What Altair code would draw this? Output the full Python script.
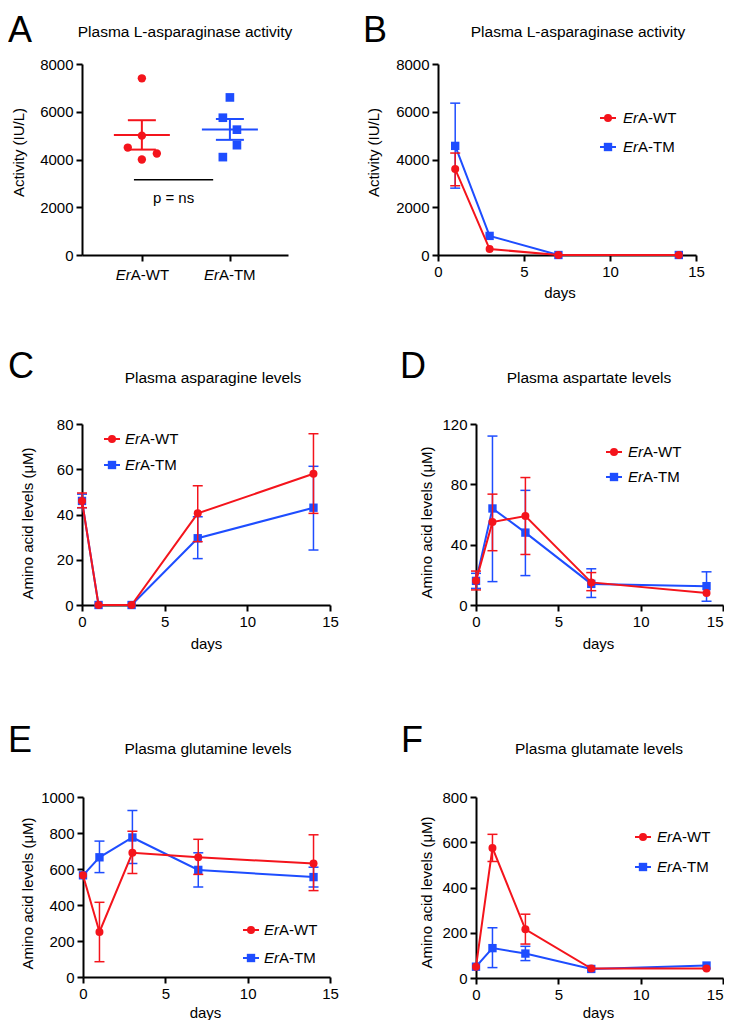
import altair as alt
import pandas as pd

FONT = "Liberation Sans"
RED = "#f4141c"
BLUE = "#1e4dff"
W, H = 716, 1012
LETTER_SIZE = 36

# ---------------- data ----------------
series_er = ["Er", "Er"]
series_rest = ["A-WT", "A-TM"]

# Panel A (individual animals)
a_positions = [1, 2]
a_wt_values = [7400, 5000, 4500, 4250, 4000]
a_wt_x = [1.0, 1.0, 0.84, 1.17, 1.0]
a_tm_values = [6600, 5750, 5250, 4600, 4100]
a_tm_x = [2.0, 1.92, 2.08, 2.08, 1.92]
a_p_line_x = [0.91, 1.81]
a_p_line_y = [3150]
a_p_text = ["p = ns"]
a_p_text_x = [1.36]
a_p_text_y = [2400]

# Panel B
b_days = [1, 3, 7, 14]
b_wt_mean = [3600, 250, 0, 0]
b_wt_lo = [2900, None, None, None]
b_wt_hi = [4270, None, None, None]
b_tm_mean = [4570, 800, 0, 0]
b_tm_lo = [2800, None, None, None]
b_tm_hi = [6360, None, None, None]

days = [0, 1, 3, 7, 14]
# Panel C asparagine
c_wt_mean = [46, 0, 0, 40.5, 58]
c_wt_lo = [43, None, None, 28, 40.5]
c_wt_hi = [49.5, None, None, 52.7, 75.7]
c_tm_mean = [46, 0, 0, 29.5, 43]
c_tm_lo = [43, None, None, 20.5, 24.3]
c_tm_hi = [49, None, None, 39, 61.3]
# Panel D aspartate
d_wt_mean = [16, 55, 59, 15, 8]
d_wt_lo = [10, 36, 33.5, 9.5, None]
d_wt_hi = [22.5, 73.5, 84.5, 21.5, None]
d_tm_mean = [16, 64, 48, 14, 12.5]
d_tm_lo = [11, 15.5, 19.5, 5, 2.5]
d_tm_hi = [21, 112, 76, 24, 22]
# Panel E glutamine
e_wt_mean = [565, 250, 690, 665, 630]
e_wt_lo = [None, 85, 575, 570, 480]
e_wt_hi = [None, 415, 810, 765, 790]
e_tm_mean = [565, 665, 775, 595, 555]
e_tm_lo = [None, 580, 630, 500, 500]
e_tm_hi = [None, 755, 925, 690, 610]
# Panel F glutamate
f_wt_mean = [50, 575, 215, 42, 42]
f_wt_lo = [None, 515, 150, None, None]
f_wt_hi = [None, 635, 282, None, None]
f_tm_mean = [50, 132, 108, 40, 55]
f_tm_lo = [None, 46, 77, None, None]
f_tm_hi = [None, 222, 140, None, None]

titles = {
    "A": "Plasma L-asparaginase activity",
    "B": "Plasma L-asparaginase activity",
    "C": "Plasma asparagine levels",
    "D": "Plasma aspartate levels",
    "E": "Plasma glutamine levels",
    "F": "Plasma glutamate levels",
}
act_title = "Activity (IU/L)"
aa_title = "Amino acid levels (\u03bcM)"
x_title = "days"


# ---------------- helpers ----------------
def one_row(**kw):
    return pd.DataFrame({k: [v] for k, v in kw.items()})


def text_at(text, x, y, size=15.5, style="normal", align="center", baseline="middle"):
    return alt.Chart(one_row(t=text)).mark_text(
        font=FONT, fontSize=size, fontStyle=style, align=align,
        baseline=baseline, color="black"
    ).encode(x=alt.value(x), y=alt.value(y), text="t:N")


def legend(xm, xt, ys):
    layers = []
    for i, (color, shape, size) in enumerate([(RED, "circle", 64), (BLUE, "square", 70)]):
        y = ys[i]
        d = one_row(er=series_er[i], rest=series_rest[i])
        base = alt.Chart(d)
        layers.append(base.mark_rule(color=color, strokeWidth=2).encode(
            x=alt.value(xm - 8), x2=alt.value(xm + 8), y=alt.value(y)))
        layers.append(base.mark_point(shape=shape, filled=True, size=size, color=color,
                                      opacity=1).encode(x=alt.value(xm), y=alt.value(y)))
        layers.append(base.mark_text(font=FONT, fontSize=15, fontStyle="italic", align="left",
                                     baseline="middle", color="black").encode(
            x=alt.value(xt), y=alt.value(y), text="er:N"))
        layers.append(base.mark_text(font=FONT, fontSize=15, align="left",
                                     baseline="middle", color="black").encode(
            x=alt.value(xt + 15), y=alt.value(y), text="rest:N"))
    return layers


def make_enc(xdom, xr, ydom, yr, yvals, ytitle, ytx, yty, xaxis):
    xs = alt.Scale(domain=xdom, range=xr, nice=False, zero=False)
    ys = alt.Scale(domain=ydom, range=yr, nice=False, zero=False)
    yaxis = alt.Axis(orient="left", offset=-xr[0], values=yvals, title=ytitle, format="d",
                     titleX=ytx, titleY=yty, titleBaseline="middle")

    def X(f):
        return alt.X(f, type="quantitative", scale=xs, axis=xaxis)

    def Y(f):
        return alt.Y(f, type="quantitative", scale=ys, axis=yaxis)
    return X, Y


def line_panel(d, wt, tm, xr, yr, ydom, yvals, ytitle, ytx, yty, xtx, xty,
               title, title_xy, letter, letter_xy, leg, flush_last=False):
    extra = {}
    if flush_last:
        # keep the last tick label inside the page edge
        extra["labelAlign"] = {"condition": {"test": "datum.value == 15", "value": "right"},
                               "value": "center"}
    xaxis = alt.Axis(orient="bottom", offset=yr[0] - H, values=[0, 5, 10, 15], format="d",
                     title=x_title, titleX=xtx, titleY=xty, titleBaseline="middle", **extra)
    X, Y = make_enc([0, 15], xr, ydom, yr, yvals, ytitle, ytx, yty, xaxis)
    layers = []
    for (mean, lo, hi), color, shape, size in [(tm, BLUE, "square", 70), (wt, RED, "circle", 64)]:
        df = pd.DataFrame({"day": d, "mean": mean, "lo": lo, "hi": hi})
        base = alt.Chart(df)
        err = base.transform_filter("isValid(datum.hi) && isValid(datum.lo)")
        layers.append(err.mark_rule(color=color, strokeWidth=1.5).encode(
            x=X("day"), y=Y("lo"), y2="hi:Q"))
        layers.append(err.mark_tick(orient="horizontal", size=10, thickness=1.5, color=color,
                                    opacity=1).encode(x=X("day"), y=Y("lo")))
        layers.append(err.mark_tick(orient="horizontal", size=10, thickness=1.5, color=color,
                                    opacity=1).encode(x=X("day"), y=Y("hi")))
        layers.append(base.mark_line(color=color, strokeWidth=2).encode(x=X("day"), y=Y("mean")))
        layers.append(base.mark_point(shape=shape, filled=True, size=size, color=color,
                                      opacity=1).encode(x=X("day"), y=Y("mean")))
    layers += legend(*leg)
    layers.append(text_at(title, *title_xy))
    layers.append(text_at(letter, *letter_xy, size=LETTER_SIZE, align="left",
                          baseline="alphabetic"))
    return alt.layer(*layers)


# ---------------- Panel A ----------------
def panel_a():
    xaxis = alt.Axis(orient="bottom", offset=247 - H, values=a_positions, labels=False, title="")
    X, Y = make_enc([0.32, 2.66], [74, 280], [0, 8000], [247, 56],
                    [0, 2000, 4000, 6000, 8000], act_title, -64, 144, xaxis)
    df = pd.DataFrame({
        "group": ["WT"] * len(a_wt_values) + ["TM"] * len(a_tm_values),
        "pos": [a_positions[0]] * len(a_wt_values) + [a_positions[1]] * len(a_tm_values),
        "x": a_wt_x + a_tm_x,
        "value": a_wt_values + a_tm_values,
    })
    layers = []
    for g, color, shape, size in [("WT", RED, "circle", 70), ("TM", BLUE, "square", 75)]:
        sub = alt.Chart(df).transform_filter(f"datum.group == '{g}'")
        layers.append(sub.mark_point(shape=shape, filled=True, size=size, color=color,
                                     opacity=1).encode(x=X("x"), y=Y("value")))
        stats = sub.transform_aggregate(
            mean="mean(value)", sem="stderr(value)", groupby=["pos"]
        ).transform_calculate(lo="datum.mean - datum.sem", hi="datum.mean + datum.sem")
        layers.append(stats.mark_rule(color=color, strokeWidth=2).encode(
            x=X("pos"), y=Y("lo"), y2="hi:Q"))
        layers.append(stats.mark_tick(orient="horizontal", size=56, thickness=2, color=color,
                                      opacity=1).encode(x=X("pos"), y=Y("mean")))
        layers.append(stats.mark_tick(orient="horizontal", size=28, thickness=2, color=color,
                                      opacity=1).encode(x=X("pos"), y=Y("lo")))
        layers.append(stats.mark_tick(orient="horizontal", size=28, thickness=2, color=color,
                                      opacity=1).encode(x=X("pos"), y=Y("hi")))
    pline = pd.DataFrame({"x1": [a_p_line_x[0]], "x2": [a_p_line_x[1]], "y": a_p_line_y})
    layers.append(alt.Chart(pline).mark_rule(color="black", strokeWidth=1.5).encode(
        x=X("x1"), x2="x2:Q", y=Y("y")))
    ptext = pd.DataFrame({"x": a_p_text_x, "y": a_p_text_y, "t": a_p_text})
    layers.append(alt.Chart(ptext).mark_text(font=FONT, fontSize=15, color="black").encode(
        x=X("x"), y=Y("y"), text="t:N"))
    cats = pd.DataFrame({"pos": a_positions, "er": series_er, "rest": series_rest})
    layers.append(alt.Chart(cats).mark_text(font=FONT, fontSize=15, fontStyle="italic",
                                            align="right", dx=-11, color="black").encode(
        x=X("pos"), y=alt.value(267), text="er:N"))
    layers.append(alt.Chart(cats).mark_text(font=FONT, fontSize=15, align="left", dx=-11,
                                            color="black").encode(
        x=X("pos"), y=alt.value(267), text="rest:N"))
    layers.append(text_at(titles["A"], 177, 24))
    layers.append(text_at("A", 0, 34, size=LETTER_SIZE, align="left", baseline="alphabetic"))
    return alt.layer(*layers)


pA = panel_a()
pB = line_panel(b_days, (b_wt_mean, b_wt_lo, b_wt_hi), (b_tm_mean, b_tm_lo, b_tm_hi),
                [430, 688], [247, 56], [0, 8000], [0, 2000, 4000, 6000, 8000], act_title,
                -65, 144, 551.5, 37, titles["B"], (570, 24), "B", (355, 34),
                (600, 615, [110, 139]))
pC = line_panel(days, (c_wt_mean, c_wt_lo, c_wt_hi), (c_tm_mean, c_tm_lo, c_tm_hi),
                [74, 322], [597, 416], [0, 80], [0, 20, 40, 60, 80], aa_title,
                -55, 515, 198, 38, titles["C"], (205, 370), "C", (0, 370),
                (104, 117, [431, 457]))
pD = line_panel(days, (d_wt_mean, d_wt_lo, d_wt_hi), (d_tm_mean, d_tm_lo, d_tm_hi),
                [468, 715], [597, 416], [0, 120], [0, 40, 80, 120], aa_title,
                -50, 514, 590, 38, titles["D"], (581, 370), "D", (392, 370),
                (606, 620, [444, 469]), flush_last=True)
pE = line_panel(days, (e_wt_mean, e_wt_lo, e_wt_hi), (e_tm_mean, e_tm_lo, e_tm_hi),
                [75, 322], [969, 789], [0, 1000], [0, 200, 400, 600, 800, 1000], aa_title,
                -56, 885, 197, 35, titles["E"], (200, 741), "E", (0, 744),
                (243, 256, [922, 950]))
pF = line_panel(days, (f_wt_mean, f_wt_lo, f_wt_hi), (f_tm_mean, f_tm_lo, f_tm_hi),
                [468, 715], [970, 789], [0, 800], [0, 200, 400, 600, 800], aa_title,
                -50, 884, 590, 34, titles["F"], (591, 741), "F", (393, 744),
                (635, 649, [829, 859]), flush_last=True)

chart = alt.layer(pA, pB, pC, pD, pE, pF).resolve_scale(
    x="independent", y="independent"
).properties(
    width=W, height=H, padding=0, autosize=alt.AutoSizeParams(type="none")
).configure_axis(
    labelFont=FONT, titleFont=FONT, labelFontSize=15, titleFontSize=15,
    titleFontWeight="normal", labelColor="black", titleColor="black",
    domainColor="black", tickColor="black", domainWidth=2, tickWidth=2,
    tickSize=6, labelPadding=3, grid=False, labelFlush=False
).configure_view(stroke=None)

chart.save("out.html", embed_options={"renderer": "svg", "actions": False})
